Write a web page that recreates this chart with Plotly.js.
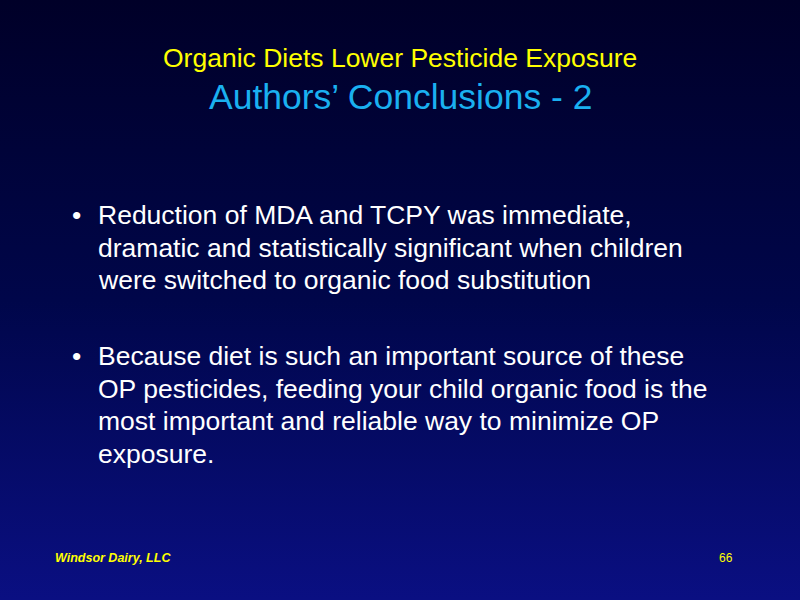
<!DOCTYPE html>
<html>
<head>
<meta charset="utf-8">
<script src="https://cdn.plot.ly/plotly-3.0.1.min.js"></script>
<style>
  html, body { margin: 0; padding: 0; }
  body { background: linear-gradient(to bottom, #000028 0%, #00064a 50%, #0a0f82 100%); width: 800px; height: 600px; }
  #slide { width: 800px; height: 600px; }
</style>
</head>
<body>
<div id="slide"></div>
<script>
const titleText = 'Organic Diets Lower Pesticide Exposure';
const subtitleText = 'Authors\u2019 Conclusions - 2';
const bullets = [
    ['Reduction of MDA and TCPY was immediate,',
     'dramatic and statistically significant when children',
     'were switched to organic food substitution'],
    ['Because diet is such an important source of these',
     'OP pesticides, feeding your child organic food is the',
     'most important and reliable way to minimize OP',
     'exposure.']
];
const footerLeft = 'Windsor Dairy, LLC';
const footerRight = '66';

const W = 800, H = 600;
const px = x => x / W;
const py = y => 1 - y / H;
const font = 'Liberation Sans, Arial, sans-serif';

const annotations = [];
function addText(text, x, y, size, color, anchor, extra) {
    annotations.push(Object.assign({
        text: text, x: px(x), y: py(y), xref: 'paper', yref: 'paper',
        xanchor: anchor || 'left', yanchor: 'middle', showarrow: false,
        font: { family: font, size: size, color: color }
    }, extra || {}));
}

addText(titleText, 400, 58, 26.5, '#ffff00', 'center');
addText(subtitleText, 400, 97, 35.5, '#1ab0f0', 'center');

const blockTops = [215, 356];
bullets.forEach((lines, b) => {
    addText('\u2022', 70, blockTops[b], 26.5, '#ffffff');
    lines.forEach((line, i) => {
        addText(line, 96, blockTops[b] + i * 32.5, 26.5, '#ffffff');
    });
});

addText('<b><i>' + footerLeft + '</i></b>', 53, 558, 12.5, '#ffff00');
addText(footerRight, 735, 558, 12, '#ffff00', 'right');

Plotly.newPlot('slide', [], {
    width: W, height: H,
    margin: { l: 0, r: 0, t: 0, b: 0 },
    paper_bgcolor: 'rgba(0,0,0,0)',
    plot_bgcolor: 'rgba(0,0,0,0)',
    xaxis: { visible: false }, yaxis: { visible: false },
    annotations: annotations
}, { staticPlot: true });
</script>
</body>
</html>
